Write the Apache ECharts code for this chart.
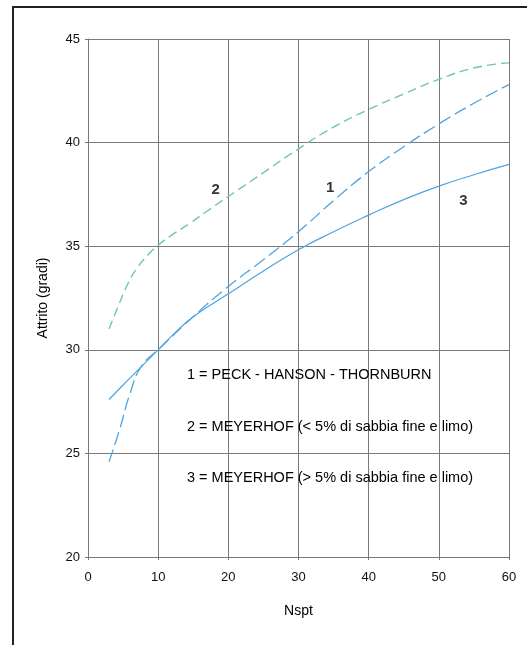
<!DOCTYPE html>
<html>
<head>
<meta charset="utf-8">
<script src="https://cdn.jsdelivr.net/npm/echarts@6/dist/echarts.min.js"></script>
<style>
html,body{margin:0;padding:0;background:#fff;}
#chart{width:527px;height:645px;}
</style>
</head>
<body>
<div id="chart"></div>
<script>
// Curve 1 = PECK - HANSON - THORNBURN
var nspt1 = [3, 4.5, 6, 7.6, 10, 15, 20, 25, 30, 35, 40, 45, 50, 55, 60];
var phi1  = [24.6, 26.15, 27.9, 29.2, 30, 31.6, 33.06, 34.35, 35.7, 37.2, 38.6, 39.8, 40.9, 41.9, 42.8];
// Curve 2 = MEYERHOF (< 5%)
var nspt2 = [3, 4.3, 5.7, 7.1, 8.8, 10, 12, 14.5, 17, 20, 25, 30, 35, 40, 45, 50, 55, 60];
var phi2  = [31.0, 32.1, 33.2, 34.0, 34.67, 35.05, 35.55, 36.1, 36.7, 37.4, 38.55, 39.7, 40.75, 41.6, 42.35, 43.05, 43.6, 43.85];
// Curve 3 = MEYERHOF (> 5%)
var nspt3 = [3, 5, 7.5, 10, 12.5, 15, 20, 25, 30, 35, 40, 45, 50, 55, 60];
var phi3  = [27.6, 28.3, 29.15, 30, 30.85, 31.6, 32.7, 33.8, 34.83, 35.7, 36.5, 37.25, 37.9, 38.45, 38.95];
// Curve number labels
var curveLabels = ['1', '2', '3'];
var curveLabelX = [34.5, 18.2, 53.5];
var curveLabelY = [37.8, 37.7, 37.2];
// Legend texts
var legendTexts = [
  '1 = PECK - HANSON - THORNBURN',
  '2 = MEYERHOF (< 5% di sabbia fine e limo)',
  '3 = MEYERHOF (> 5% di sabbia fine e limo)'
];
var xTicks = [0, 10, 20, 30, 40, 50, 60];
var yTicks = [20, 25, 30, 35, 40, 45];

function pairs(xs, ys){ return xs.map(function(x,i){ return [x, ys[i]]; }); }

var FONT = '"Liberation Sans", Arial, sans-serif';
var chart = echarts.init(document.getElementById('chart'), null, {renderer:'canvas'});
var option = {
  backgroundColor: '#ffffff',
  animation: false,
  grid: {left: 88, right: 18, top: 39, bottom: 88, containLabel: false},
  xAxis: {
    type: 'value', min: xTicks[0], max: xTicks[xTicks.length-1], interval: 10,
    name: 'Nspt', nameLocation: 'middle', nameGap: 47,
    nameTextStyle: {fontFamily: FONT, fontSize: 14, color: '#000'},
    axisLine: {show: true, lineStyle: {color: '#777', width: 1}},
    axisTick: {show: true, length: 3, lineStyle: {color: '#777'}},
    axisLabel: {fontFamily: FONT, fontSize: 13, color: '#111', margin: 14},
    splitLine: {show: true, lineStyle: {color: '#7a7a7a', width: 1}}
  },
  yAxis: {
    type: 'value', min: yTicks[0], max: yTicks[yTicks.length-1], interval: 5,
    name: 'Attrito (gradi)', nameLocation: 'middle', nameGap: 38,
    nameTextStyle: {fontFamily: FONT, fontSize: 14, color: '#000'},
    axisLine: {show: true, lineStyle: {color: '#777', width: 1}},
    axisTick: {show: true, length: 3, lineStyle: {color: '#777'}},
    axisLabel: {fontFamily: FONT, fontSize: 13, color: '#111', margin: 8},
    splitLine: {show: true, lineStyle: {color: '#7a7a7a', width: 1}}
  },
  series: [
    {
      name: '2', type: 'line', smooth: 0.5, showSymbol: false,
      data: pairs(nspt2, phi2),
      lineStyle: {color: '#6fcb98', width: 1.4, type: [9, 5]}
    },
    {
      name: '1', type: 'line', smooth: 0.5, showSymbol: false,
      data: pairs(nspt1, phi1),
      lineStyle: {color: '#4ea4e2', width: 1.3, type: [13, 5]}
    },
    {
      name: '3', type: 'line', smooth: 0.5, showSymbol: false,
      data: pairs(nspt3, phi3),
      lineStyle: {color: '#4ea4e2', width: 1.2}
    },
    {
      type: 'scatter', symbolSize: 0,
      data: curveLabels.map(function(t,i){ return {value: [curveLabelX[i], curveLabelY[i]], name: t}; }),
      label: {show: true, position: 'inside', formatter: '{b}', fontFamily: FONT, fontSize: 15, fontWeight: 'bold', color: '#000'}
    }
  ],
  graphic: [
    {type: 'rect', z: 100, silent: true, shape: {x: 13, y: 7, width: 700, height: 800},
     style: {fill: 'none', stroke: '#222', lineWidth: 2}},
    {type: 'text', z: 100, left: 187, top: 367, style: {text: legendTexts[0], font: '14.5px ' + FONT, fill: '#000'}},
    {type: 'text', z: 100, left: 187, top: 419, style: {text: legendTexts[1], font: '14.5px ' + FONT, fill: '#000'}},
    {type: 'text', z: 100, left: 187, top: 470, style: {text: legendTexts[2], font: '14.5px ' + FONT, fill: '#000'}}
  ]
};
chart.setOption(option);
</script>
</body>
</html>
